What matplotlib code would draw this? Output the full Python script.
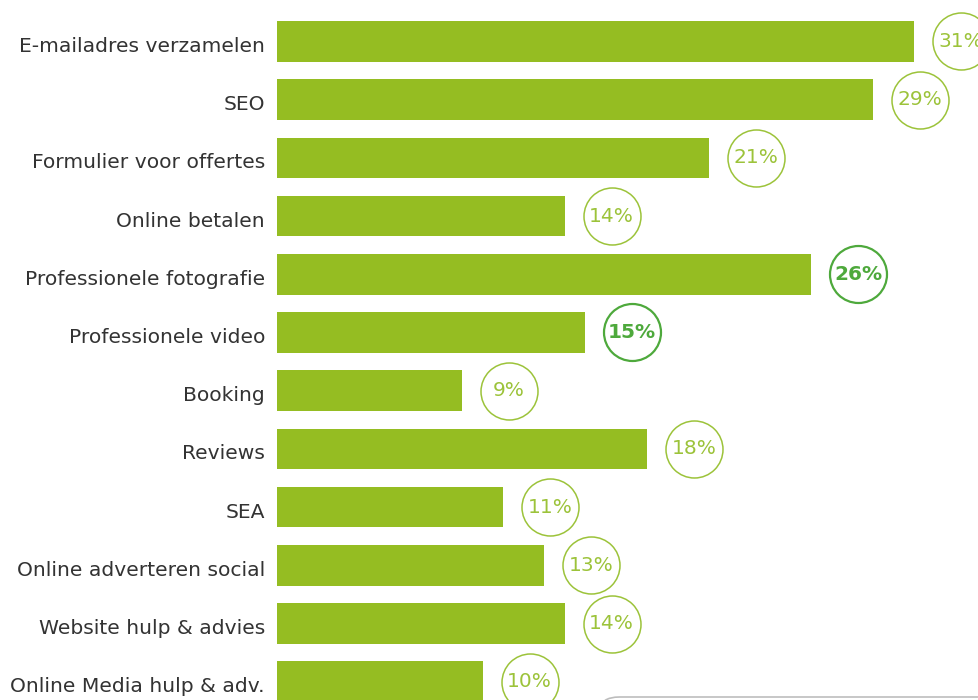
#!/usr/bin/env python3
"""Horizontal bar chart with percentage bubbles (website features)."""

import matplotlib

matplotlib.use("Agg")

import matplotlib.pyplot as plt
import matplotlib.transforms as mtransforms
from matplotlib.patches import FancyBboxPatch

categories = [
    "E-mailadres verzamelen",
    "SEO",
    "Formulier voor offertes",
    "Online betalen",
    "Professionele fotografie",
    "Professionele video",
    "Booking",
    "Reviews",
    "SEA",
    "Online adverteren social",
    "Website hulp & advies",
    "Online Media hulp & adv.",
]
values = [31, 29, 21, 14, 26, 15, 9, 18, 11, 13, 14, 10]
highlight = [False, False, False, False, True, True, False, False, False, False, False, False]

BAR = "#95bd22"
RING = "#9cc33a"
RING_HI = "#4ea93c"
LABEL = "#333333"

W, H, DPI = 979, 700, 100
PX_PER_UNIT = 20.55
ROW = 58.2
FIRST = 41.5
X0 = 277

fig = plt.figure(figsize=(W / DPI, H / DPI), dpi=DPI, facecolor="white")
ax = fig.add_axes([X0 / W, 0.0, 1 - X0 / W, 1.0])
ax.set_xlim(0, (W - X0) / PX_PER_UNIT)
ax.set_ylim((H - FIRST) / ROW, -FIRST / ROW)
ax.axis("off")

ypos = list(range(len(categories)))
ax.barh(ypos, values, height=0.70, color=BAR, edgecolor="none")

# bubbles sit a fixed distance past the end of each bar
off = mtransforms.offset_copy(ax.transData, fig=fig, x=47 * 72 / DPI, y=0, units="points")
diam_pt = 57 * 72 / DPI
for y, v, hi in zip(ypos, values, highlight):
    col = RING_HI if hi else RING
    ax.scatter([v], [y], s=diam_pt ** 2, marker="o", facecolors="white",
               edgecolors=col, linewidths=1.6 if hi else 1.1,
               transform=off, clip_on=False, zorder=3)
    ax.text(v, y, f"{v}%", transform=off, ha="center", va="center",
            fontsize=14.5, color=col, family="DejaVu Sans",
            fontweight="bold" if hi else "normal", zorder=4, clip_on=False)

for y, name in zip(ypos, categories):
    ax.annotate(name, xy=(0, y), xytext=(-12 * 72 / DPI, -5 * 72 / DPI),
                textcoords="offset points",
                ha="right", va="center", fontsize=14.6, color=LABEL,
                family="DejaVu Sans", annotation_clip=False)

box = FancyBboxPatch((600 / W, -0.05), (W - 600) / W + 0.05, 0.05 + 3 / H,
                     boxstyle="round,pad=0,rounding_size=0.02",
                     transform=fig.transFigure, facecolor="none",
                     edgecolor="#bdbdbd", linewidth=1.2)
fig.patches.append(box)

fig.savefig("out.png", dpi=DPI, facecolor="white")
